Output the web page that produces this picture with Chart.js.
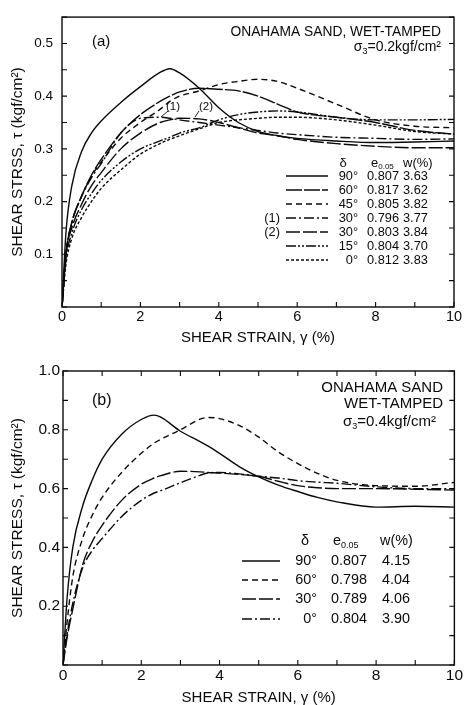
<!DOCTYPE html>
<html>
<head>
<meta charset="utf-8">
<script src="https://cdn.jsdelivr.net/npm/chart.js@4.4.0/dist/chart.umd.min.js"></script>
<style>
  html, body { margin: 0; padding: 0; background: #fff; }
  .panel { position: absolute; left: 0; width: 464px; }
  #wrapA { top: 0; height: 350px; }
  #wrapB { top: 350px; height: 355px; }
</style>
</head>
<body>
<div id="wrapA" class="panel"><canvas id="chartA" width="464" height="350"></canvas></div>
<div id="wrapB" class="panel"><canvas id="chartB" width="464" height="355"></canvas></div>
<script>
const FONT = '"Liberation Sans", Arial, Helvetica, sans-serif';
const INK = '#0a0a0a';

// panel (a): sigma3 = 0.2 kgf/cm2
const strainA = [0, 0.1, 0.25, 0.5, 0.75, 1, 1.5, 2, 2.5, 2.75, 3, 3.5, 4, 4.5, 5, 5.5, 6, 7, 8, 9, 10];
const tauA90 = [0, 0.14, 0.23, 0.295, 0.33, 0.353, 0.388, 0.418, 0.445, 0.452, 0.444, 0.415, 0.378, 0.35, 0.333, 0.325, 0.32, 0.315, 0.312, 0.313, 0.315];
const tauA60 = [0, 0.10, 0.16, 0.21, 0.25, 0.28, 0.33, 0.365, 0.39, 0.40, 0.408, 0.415, 0.413, 0.41, 0.40, 0.385, 0.37, 0.36, 0.35, 0.335, 0.328];
const tauA45 = [0, 0.10, 0.16, 0.21, 0.248, 0.275, 0.32, 0.35, 0.375, 0.39, 0.40, 0.41, 0.422, 0.428, 0.432, 0.428, 0.415, 0.385, 0.355, 0.343, 0.34];
const tauA30a = [0, 0.10, 0.16, 0.21, 0.245, 0.272, 0.33, 0.358, 0.36, 0.358, 0.355, 0.35, 0.345, 0.34, 0.335, 0.33, 0.327, 0.322, 0.32, 0.318, 0.319];
const tauA30b = [0, 0.10, 0.15, 0.195, 0.23, 0.255, 0.30, 0.33, 0.35, 0.355, 0.358, 0.357, 0.35, 0.34, 0.33, 0.325, 0.318, 0.31, 0.305, 0.302, 0.302];
const tauA15 = [0, 0.09, 0.14, 0.185, 0.215, 0.24, 0.275, 0.30, 0.315, 0.322, 0.33, 0.34, 0.355, 0.365, 0.37, 0.372, 0.37, 0.36, 0.355, 0.355, 0.356];
const tauA0 = [0, 0.08, 0.13, 0.17, 0.20, 0.225, 0.26, 0.29, 0.31, 0.318, 0.325, 0.338, 0.35, 0.355, 0.358, 0.36, 0.36, 0.355, 0.345, 0.333, 0.328];

const legendA = [
  ['', '90°', '0.807', '3.63'],
  ['', '60°', '0.817', '3.62'],
  ['', '45°', '0.805', '3.82'],
  ['(1)', '30°', '0.796', '3.77'],
  ['(2)', '30°', '0.803', '3.84'],
  ['', '15°', '0.804', '3.70'],
  ['', '0°', '0.812', '3.83']
];

// panel (b): sigma3 = 0.4 kgf/cm2
const strainB = [0, 0.1, 0.25, 0.5, 0.75, 1, 1.5, 2, 2.33, 2.5, 3, 3.5, 3.7, 4, 4.5, 5, 5.5, 6, 6.5, 7, 8, 9, 10];
const tauB90 = [0, 0.22, 0.40, 0.54, 0.63, 0.70, 0.785, 0.835, 0.85, 0.843, 0.795, 0.76, 0.745, 0.72, 0.675, 0.64, 0.612, 0.59, 0.57, 0.555, 0.537, 0.54, 0.537];
const tauB60 = [0, 0.14, 0.30, 0.43, 0.51, 0.57, 0.655, 0.72, 0.755, 0.768, 0.80, 0.836, 0.842, 0.838, 0.815, 0.775, 0.725, 0.685, 0.652, 0.628, 0.61, 0.608, 0.621];
const tauB30 = [0, 0.09, 0.19, 0.34, 0.42, 0.475, 0.56, 0.615, 0.636, 0.644, 0.659, 0.657, 0.655, 0.653, 0.648, 0.642, 0.625, 0.61, 0.603, 0.60, 0.60, 0.598, 0.595];
const tauB0 = [0, 0.10, 0.21, 0.33, 0.39, 0.43, 0.505, 0.56, 0.585, 0.593, 0.62, 0.645, 0.653, 0.655, 0.65, 0.642, 0.636, 0.627, 0.622, 0.618, 0.606, 0.60, 0.60];

const legendB = [
  ['90°', '0.807', '4.15'],
  ['60°', '0.798', '4.04'],
  ['30°', '0.789', '4.06'],
  ['0°', '0.804', '3.90']
];

const DASH = {
  solid: [],
  nearSolid: [16, 2],
  dashed: [6, 4],
  dashDot: [10, 3, 2, 3],
  longDash: [14, 3],
  dashDotDot: [10, 2, 2, 2, 2, 2],
  fine: [3, 2]
};

function toPoints(xs, ys) {
  return xs.map((x, i) => ({ x, y: ys[i] }));
}

function series(xs, ys, dash) {
  return {
    data: toPoints(xs, ys),
    borderColor: INK,
    borderWidth: 1.4,
    borderDash: dash,
    pointRadius: 0,
    fill: false,
    cubicInterpolationMode: 'monotone'
  };
}

// text with optional subscript pieces
function drawRich(ctx, parts, x, y, align, size) {
  const fontFor = p => `${p.sub ? Math.round(size * 0.62) : size}px ${FONT}`;
  let w = 0;
  parts.forEach(p => { ctx.font = fontFor(p); w += ctx.measureText(p.t).width; });
  let cx = align === 'right' ? x - w : align === 'center' ? x - w / 2 : x;
  ctx.textAlign = 'left';
  ctx.textBaseline = 'middle';
  parts.forEach(p => {
    ctx.font = fontFor(p);
    ctx.fillText(p.t, cx, y + (p.sub ? size * 0.32 : 0));
    cx += ctx.measureText(p.t).width;
  });
}

const framePlugin = {
  id: 'frame',
  afterDatasetsDraw(chart, args, opts) {
    const { ctx, chartArea: a, scales: { x, y } } = chart;
    ctx.save();
    ctx.strokeStyle = INK;
    ctx.lineWidth = 1.4;
    ctx.strokeRect(a.left, a.top, a.right - a.left, a.bottom - a.top);
    ctx.lineWidth = 1.1;
    ctx.beginPath();
    x.ticks.forEach(t => {
      const px = x.getPixelForValue(t.value);
      ctx.moveTo(px, a.bottom); ctx.lineTo(px, a.bottom - 5);
      if (opts.topTicks) { ctx.moveTo(px, a.top); ctx.lineTo(px, a.top + 5); }
    });
    y.ticks.forEach(t => {
      const py = y.getPixelForValue(t.value);
      ctx.moveTo(a.left, py); ctx.lineTo(a.left + 5, py);
      ctx.moveTo(a.right, py); ctx.lineTo(a.right - 5, py);
    });
    ctx.stroke();

    // notes and legend
    ctx.fillStyle = INK;
    (opts.texts || []).forEach(t => drawRich(ctx, t.parts, t.x, t.y, t.align, t.size || 12.5));
    ctx.lineWidth = 1.3;
    (opts.samples || []).forEach(s => {
      ctx.setLineDash(s.dash);
      ctx.beginPath();
      ctx.moveTo(s.x1, s.y); ctx.lineTo(s.x2, s.y);
      ctx.stroke();
    });
    ctx.setLineDash([]);
    ctx.lineWidth = 0.9;
    (opts.leaders || []).forEach(l => {
      ctx.beginPath();
      ctx.moveTo(l[0], l[1]); ctx.lineTo(l[2], l[3]);
      ctx.stroke();
    });
    ctx.restore();
  }
};

function makeOptions(cfg) {
  return {
    responsive: false,
    animation: false,
    layout: { padding: { left: 0, top: cfg.padTop, right: cfg.padRight, bottom: 0 } },
    plugins: {
      legend: { display: false },
      tooltip: { enabled: false },
      frame: cfg.frame
    },
    scales: {
      x: {
        type: 'linear', min: 0, max: 10,
        grid: { display: false, drawTicks: false },
        border: { display: false },
        ticks: {
          stepSize: 1, padding: 1, color: INK, maxRotation: 0, autoSkip: false,
          font: { family: FONT, size: cfg.xTickSize },
          callback: v => (Math.round(v) % 2 === 0 ? String(Math.round(v)) : '')
        },
        title: {
          display: true, text: 'SHEAR STRAIN, γ (%)', color: INK,
          font: { family: FONT, size: 15 }, padding: { top: 0, bottom: cfg.xTitlePad }
        },
        afterFit: s => { s.height = cfg.xHeight; }
      },
      y: {
        type: 'linear', min: 0, max: cfg.yMax,
        grid: { display: false, drawTicks: false },
        border: { display: false },
        ticks: {
          stepSize: cfg.yStep, padding: cfg.yTickPad, color: INK, autoSkip: false,
          font: { family: FONT, size: cfg.yTickSize },
          callback: cfg.yLabel
        },
        title: {
          display: true, text: cfg.yTitle, color: INK,
          font: { family: FONT, size: 15.5 }, padding: { top: 8.7, bottom: 0 }
        },
        afterFit: s => { s.width = cfg.yWidth; }
      }
    }
  };
}

// ---------- panel (a) ----------
const rowsA = [176, 190, 204, 218, 232, 246, 260];
const dashesA = [DASH.solid, DASH.nearSolid, DASH.dashed, DASH.dashDot, DASH.longDash, DASH.dashDotDot, DASH.fine];
const textsA = [
  { parts: [{ t: '(a)' }], x: 92, y: 42, align: 'left', size: 15 },
  { parts: [{ t: 'ONAHAMA SAND, WET-TAMPED' }], x: 441, y: 32, align: 'right', size: 13.8 },
  { parts: [{ t: 'σ' }, { t: '3', sub: true }, { t: '=0.2kgf/cm²' }], x: 441, y: 47, align: 'right', size: 14 },
  { parts: [{ t: 'δ' }], x: 343, y: 163, align: 'center', size: 13 },
  { parts: [{ t: 'e' }, { t: '0.05', sub: true }], x: 371, y: 163, align: 'left', size: 13 },
  { parts: [{ t: 'w(%)' }], x: 403, y: 163, align: 'left', size: 13 },
  { parts: [{ t: '(1)' }], x: 173, y: 107, align: 'center', size: 11.5 },
  { parts: [{ t: '(2)' }], x: 206, y: 107, align: 'center', size: 11.5 }
];
legendA.forEach((r, i) => {
  if (r[0]) textsA.push({ parts: [{ t: r[0] }], x: 280, y: rowsA[i], align: 'right', size: 12.8 });
  textsA.push({ parts: [{ t: r[1] }], x: 358, y: rowsA[i], align: 'right', size: 12.8 });
  textsA.push({ parts: [{ t: r[2] }], x: 367, y: rowsA[i], align: 'left', size: 12.8 });
  textsA.push({ parts: [{ t: r[3] }], x: 403, y: rowsA[i], align: 'left', size: 12.8 });
});

new Chart(document.getElementById('chartA'), {
  type: 'line',
  data: {
    datasets: [
      series(strainA, tauA90, DASH.solid),
      series(strainA, tauA60, DASH.nearSolid),
      series(strainA, tauA45, DASH.dashed),
      series(strainA, tauA30a, DASH.dashDot),
      series(strainA, tauA30b, DASH.longDash),
      series(strainA, tauA15, DASH.dashDotDot),
      series(strainA, tauA0, DASH.fine)
    ]
  },
  options: makeOptions({
    padTop: 14, padRight: 10, xHeight: 43, yWidth: 62, xTitlePad: 3,
    yMax: 0.55, yStep: 0.05, yTickPad: 9, yTickSize: 13.5, xTickSize: 14.5,
    yTitle: 'SHEAR STRSS, τ (kgf/cm²)',
    yLabel: v => {
      const k = Math.round(v * 100);
      return k > 0 && k % 10 === 0 ? (k / 100).toFixed(1) : '';
    },
    frame: {
      topTicks: false,
      texts: textsA,
      samples: rowsA.map((y, i) => ({ x1: 286, x2: 328, y, dash: dashesA[i] })),
      leaders: [[168, 111, 161, 117], [199, 111, 195, 117]]
    }
  }),
  plugins: [framePlugin]
});

// ---------- panel (b) ----------
const rowsB = [211, 230, 249, 269];
const dashesB = [DASH.solid, DASH.dashed, DASH.longDash, DASH.dashDot];
const textsB = [
  { parts: [{ t: '(b)' }], x: 92, y: 51, align: 'left', size: 16 },
  { parts: [{ t: 'ONAHAMA SAND' }], x: 443, y: 38, align: 'right', size: 15 },
  { parts: [{ t: 'WET-TAMPED' }], x: 443, y: 54, align: 'right', size: 15 },
  { parts: [{ t: 'σ' }, { t: '3', sub: true }, { t: '=0.4kgf/cm²' }], x: 436, y: 72, align: 'right', size: 15 },
  { parts: [{ t: 'δ' }], x: 305, y: 191, align: 'center', size: 14.4 },
  { parts: [{ t: 'e' }, { t: '0.05', sub: true }], x: 333, y: 191, align: 'left', size: 14.4 },
  { parts: [{ t: 'w(%)' }], x: 380, y: 191, align: 'left', size: 14.4 }
];
legendB.forEach((r, i) => {
  textsB.push({ parts: [{ t: r[0] }], x: 317, y: rowsB[i], align: 'right', size: 14.4 });
  textsB.push({ parts: [{ t: r[1] }], x: 331, y: rowsB[i], align: 'left', size: 14.4 });
  textsB.push({ parts: [{ t: r[2] }], x: 382, y: rowsB[i], align: 'left', size: 14.4 });
});

new Chart(document.getElementById('chartB'), {
  type: 'line',
  data: {
    datasets: [
      series(strainB, tauB90, DASH.solid),
      series(strainB, tauB60, DASH.dashed),
      series(strainB, tauB30, DASH.longDash),
      series(strainB, tauB0, DASH.dashDot)
    ]
  },
  options: makeOptions({
    padTop: 21, padRight: 9, xHeight: 40, yWidth: 63, xTitlePad: -2,
    yMax: 1.0, yStep: 0.1, yTickPad: 3, yTickSize: 15.5, xTickSize: 15.5,
    yTitle: 'SHEAR STRESS, τ (kgf/cm²)',
    yLabel: v => {
      const k = Math.round(v * 10);
      return k > 0 && k % 2 === 0 ? (k / 10).toFixed(1) : '';
    },
    frame: {
      topTicks: true,
      texts: textsB,
      samples: rowsB.map((y, i) => ({ x1: 242, x2: 280, y, dash: dashesB[i] })),
      leaders: []
    }
  }),
  plugins: [framePlugin]
});
</script>
</body>
</html>
